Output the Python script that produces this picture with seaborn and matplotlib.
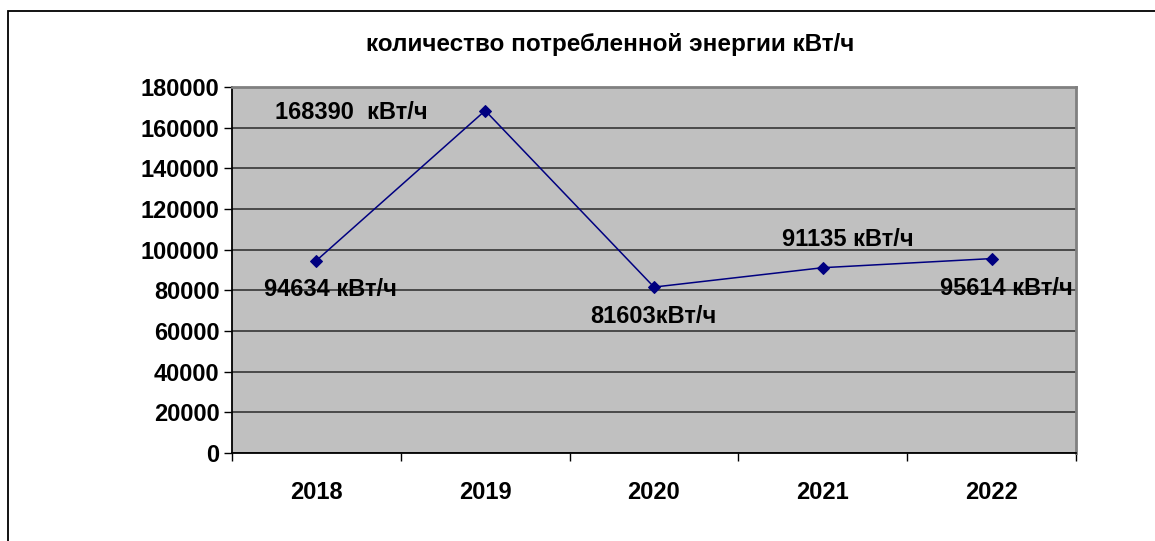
import pandas as pd
import seaborn as sns
import matplotlib.pyplot as plt
from matplotlib.patches import Rectangle

# данные графика
years = ["2018", "2019", "2020", "2021", "2022"]
energy = [94634, 168390, 81603, 91135, 95614]
point_labels = ["94634 кВт/ч", "168390  кВт/ч", "81603кВт/ч", "91135 кВт/ч", "95614 кВт/ч"]
y_ticks = [0, 20000, 40000, 60000, 80000, 100000, 120000, 140000, 160000, 180000]

df = pd.DataFrame({"idx": range(len(years)), "year": years, "energy": energy})

sns.set_style("white")
plt.rcParams["font.family"] = ["Liberation Sans", "DejaVu Sans"]
plt.rcParams["font.weight"] = "bold"
plt.rcParams["text.color"] = "black"
plt.rcParams["xtick.color"] = "black"
plt.rcParams["ytick.color"] = "black"
plt.rcParams["xtick.labelcolor"] = "black"
plt.rcParams["ytick.labelcolor"] = "black"

fig = plt.figure(figsize=(11.55, 5.41), dpi=100)
ax = fig.add_axes([232 / 1155, 1 - 453 / 541, (1076 - 232) / 1155, (453 - 87) / 541])
ax.set_facecolor("#C0C0C0")

# рамка вокруг диаграммы
fig.patches.append(Rectangle((8 / 1155, -0.1), 1.2, 1 - 11 / 541 + 0.1,
                             transform=fig.transFigure, fill=False,
                             edgecolor="black", linewidth=1.3))

sns.lineplot(data=df, x="idx", y="energy", ax=ax, color="#000080",
             marker="D", markersize=6.5, markeredgecolor="#000080",
             linewidth=1.1, zorder=5)

ax.set_xlim(-0.5, len(years) - 0.5)
ax.set_ylim(0, 180000)
ax.set_yticks(y_ticks)
ax.set_yticklabels([str(v) for v in y_ticks], fontsize=17, fontweight="bold")
ax.set_xticks(range(len(years)))
ax.set_xticklabels(years, fontsize=17, fontweight="bold")
ax.set_xticks([i - 0.5 for i in range(len(years) + 1)], minor=True)
ax.tick_params(axis="x", which="major", length=0, pad=20)
ax.tick_params(axis="x", which="minor", length=6, width=1, color="black", direction="out")
ax.tick_params(axis="y", length=6, width=1, color="black", direction="out", pad=3)
ax.tick_params(axis="y", left=True)
ax.tick_params(axis="x", bottom=True, which="minor")

ax.grid(axis="y", color="#404040", linewidth=1.3)
ax.set_axisbelow(True)
ax.set_xlabel("")
ax.set_ylabel("")

for side in ["top", "right"]:
    ax.spines[side].set_color("#808080")
    ax.spines[side].set_linewidth(2)
for side in ["left", "bottom"]:
    ax.spines[side].set_color("black")
    ax.spines[side].set_linewidth(1.3)

# подписи значений
offsets = [(14, -29), (-134, -2), (-1, -29), (25, 28), (15, -30)]
for i, (lab, off) in enumerate(zip(point_labels, offsets)):
    ax.annotate(lab, (i, energy[i]), xytext=off, textcoords="offset pixels",
                ha="center", va="center", fontsize=17, fontweight="bold", zorder=6)

fig.text(610 / 1155, 1 - 44 / 541, "количество потребленной энергии кВт/ч",
         ha="center", va="center", fontsize=17.5, fontweight="bold")

fig.savefig("out.png", dpi=100)
